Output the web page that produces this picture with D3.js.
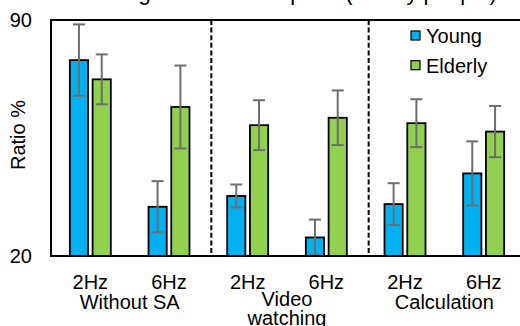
<!DOCTYPE html>
<html>
<head>
<meta charset="utf-8">
<script src="https://cdn.jsdelivr.net/npm/d3@7"></script>
<style>
  html, body { margin: 0; padding: 0; background: #fff; }
  svg { display: block; }
  text { font-family: Arial, "Liberation Sans", sans-serif; fill: #000; }
</style>
</head>
<body>
<svg id="chart" width="520" height="326"></svg>
<script>
// ---- data ----
const conditions = ["Without SA", "Video watching", "Calculation"];
const freqs = ["2Hz", "6Hz"];
const series = ["Young", "Elderly"];
const youngMean  = [78.1, 34.6, 37.8, 25.5, 35.4, 44.5];
const youngErr   = [10.6, 7.6, 3.4, 5.3, 6.2, 9.5];
const elderlyMean = [72.4, 64.2, 58.8, 61.0, 59.4, 56.9];
const elderlyErr  = [7.4, 12.3, 7.4, 8.1, 7.1, 7.6];
const yTicks = [20, 90];
const yDomain = [20, 90];
const titleText = "Judgment ratio of speed (elderly people)";
const yLabel = "Ratio %";
const colors = { Young: "#00B0F0", Elderly: "#92D050" };

(function () {
// ---- build table ----
const cats = [];
conditions.forEach(c => freqs.forEach(f => cats.push({ cond: c, freq: f, key: c + "|" + f })));
const rows = cats.map((c, i) => ({
  ...c,
  values: [
    { s: "Young", v: youngMean[i], e: youngErr[i] },
    { s: "Elderly", v: elderlyMean[i], e: elderlyErr[i] }
  ]
}));

const svg = d3.select("#chart");
const pL = 51, pR = 531, pT = 20, pB = 256;

const x = d3.scaleBand().domain(cats.map(d => d.key)).range([pL, 523]).paddingInner(0).paddingOuter(0);
const x1 = d3.scaleBand().domain(series).range([-20.5, 20.5]).paddingInner(0.2);
const y = d3.scaleLinear().domain(yDomain).range([pB, pT]);

// title (cut off at the top)
svg.append("text").attr("x", 300).attr("y", 0).attr("text-anchor", "middle")
  .attr("font-size", 22).text(titleText);

// plot box
svg.append("rect").attr("x", pL).attr("y", pT).attr("width", pR - pL).attr("height", pB - pT)
  .attr("stroke", "#000").attr("stroke-width", 2).attr("fill", "none");

// dividers between conditions
const divs = [2, 4].map(i => x(cats[i].key) + 3);
svg.selectAll("line.div").data(divs).join("line").attr("class", "div")
  .attr("x1", d => d).attr("x2", d => d).attr("y1", pT).attr("y2", pB)
  .attr("stroke", "#000").attr("stroke-width", 2).attr("stroke-dasharray", "5,2.6");

// y axis tick labels
const yAxis = d3.axisLeft(y).tickValues(yTicks).tickSize(0).tickPadding(19);
const ga = svg.append("g").attr("transform", `translate(${pL},0)`).call(yAxis);
ga.select(".domain").remove();
ga.selectAll("text").attr("font-size", 20).attr("font-family", "Arial, 'Liberation Sans', sans-serif").attr("fill", "#000");

svg.append("text").attr("transform", `translate(25,135) rotate(-90)`).attr("text-anchor", "middle")
  .attr("font-size", 20).text(yLabel);

// bars
const groups = svg.selectAll("g.cat").data(rows).join("g").attr("class", "cat")
  .attr("transform", d => `translate(${x(d.key) + x.bandwidth() / 2},0)`);
groups.selectAll("rect").data(d => d.values).join("rect")
  .attr("x", d => x1(d.s)).attr("width", x1.bandwidth())
  .attr("y", d => y(d.v)).attr("height", d => y(yDomain[0]) - y(d.v))
  .attr("fill", d => colors[d.s]).attr("stroke", "#000").attr("stroke-width", 1.8);

// error bars
const cx = d => x1(d.s) + x1.bandwidth() / 2;
const eb = groups.selectAll("g.eb").data(d => d.values).join("g").attr("class", "eb")
  .attr("stroke", "#6e6e6e").attr("stroke-width", 2);
eb.append("line").attr("x1", cx).attr("x2", cx)
  .attr("y1", d => y(Math.min(yDomain[1], d.v + d.e))).attr("y2", d => y(Math.max(yDomain[0], d.v - d.e)));
eb.filter(d => d.v + d.e <= yDomain[1]).append("line")
  .attr("x1", d => cx(d) - 6).attr("x2", d => cx(d) + 6)
  .attr("y1", d => y(d.v + d.e)).attr("y2", d => y(d.v + d.e));
eb.filter(d => d.v - d.e >= yDomain[0]).append("line")
  .attr("x1", d => cx(d) - 6).attr("x2", d => cx(d) + 6)
  .attr("y1", d => y(d.v - d.e)).attr("y2", d => y(d.v - d.e));

// bottom axis line on top
svg.append("line").attr("x1", pL).attr("x2", pR).attr("y1", pB).attr("y2", pB)
  .attr("stroke", "#000").attr("stroke-width", 2);

// x labels: frequency
svg.selectAll("text.freq").data(rows).join("text").attr("class", "freq")
  .attr("x", d => x(d.key) + x.bandwidth() / 2).attr("y", 289)
  .attr("text-anchor", "middle").attr("font-size", 20).text(d => d.freq);

// condition labels
const condLines = { "Without SA": ["Without SA"], "Video watching": ["Video", "watching"], "Calculation": ["Calculation"] };
conditions.forEach(c => {
  const mx = (x(c + "|2Hz") + x(c + "|6Hz") + x.bandwidth()) / 2;
  const t = svg.append("text").attr("x", mx).attr("y", c === "Video watching" ? 306 : 309)
    .attr("text-anchor", "middle").attr("font-size", 20);
  condLines[c].forEach((ln, i) => t.append("tspan").attr("x", mx).attr("dy", i === 0 ? 0 : 19).text(ln));
});

// legend
const lg = svg.append("g").attr("transform", "translate(411,31)");
series.forEach((s, i) => {
  const g = lg.append("g").attr("transform", `translate(0,${i * 29.7})`);
  g.append("rect").attr("width", 9).attr("height", 9).attr("fill", colors[s]).attr("stroke", "#000").attr("stroke-width", 1.2);
  g.append("text").attr("x", 15).attr("y", 12).attr("font-size", 20).text(s);
});
})();
</script>
</body>
</html>
